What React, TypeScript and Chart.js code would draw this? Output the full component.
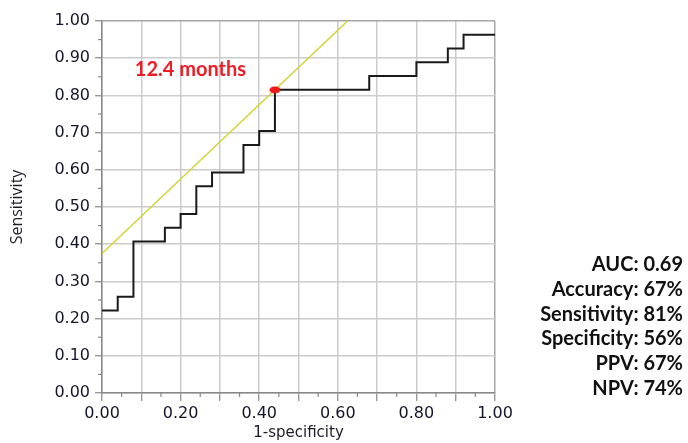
import React, { useEffect, useRef } from "react";
import { Chart, registerables } from "chart.js";

Chart.register(...registerables);

// ROC step curve (1-specificity, sensitivity)
const rocFpr = [0, 0.04, 0.08, 0.16, 0.2, 0.24, 0.28, 0.36, 0.4, 0.44, 0.68, 0.8, 0.88, 0.92, 1.0];
const rocTpr = [0.222, 0.259, 0.407, 0.444, 0.481, 0.556, 0.593, 0.667, 0.704, 0.815, 0.852, 0.889, 0.926, 0.963, 0.963];
// tangent (Youden) line endpoints
const tangentX = [0, 0.625];
const tangentY = [0.375, 1.0];
// optimal cut-off point
const cutoffX = [0.44];
const cutoffY = [0.815];
const cutoffLabel = "12.4 months";
const cutoffLabelPos = [0.225, 0.87];
const statLines = ["AUC: 0.69", "Accuracy: 67%", "Sensitivity: 81%", "Specificity: 56%", "PPV: 67%", "NPV: 74%"];
const xTitle = "1-specificity";
const yTitle = "Sensitivity";

const TICK_FONT = { family: "'DejaVu Sans', Verdana, sans-serif", size: 16 };
const X_TITLE_FONT = { family: "'DejaVu Sans', Verdana, sans-serif", size: 15 };
const Y_TITLE_FONT = { family: "'Open Sans', sans-serif", size: 16 };

function makeEllipse(): HTMLCanvasElement {
  const c = document.createElement("canvas");
  c.width = 12;
  c.height = 8;
  const g = c.getContext("2d")!;
  g.fillStyle = "#f01818";
  g.beginPath();
  g.ellipse(6, 4, 5.5, 3.5, 0, 0, Math.PI * 2);
  g.fill();
  return c;
}

const extrasPlugin = {
  id: "extras",
  afterDraw(chart: any) {
    const ctx = chart.ctx;
    const xs = chart.scales.x;
    const ys = chart.scales.y;
    ctx.save();
    ctx.strokeStyle = "#888888";
    ctx.lineWidth = 1.2;
    // minor ticks
    for (let k = 0; k < 10; k++) {
      const v = 0.05 + k * 0.1;
      const px = xs.getPixelForValue(v);
      ctx.beginPath();
      ctx.moveTo(px, ys.bottom);
      ctx.lineTo(px, ys.bottom + 4);
      ctx.stroke();
      const py = ys.getPixelForValue(v);
      ctx.beginPath();
      ctx.moveTo(xs.left, py);
      ctx.lineTo(xs.left - 4, py);
      ctx.stroke();
    }
    // label
    ctx.fillStyle = "#ee1c25";
    ctx.font = "bold 20px Lato, 'Open Sans', sans-serif";
    ctx.textAlign = "center";
    ctx.textBaseline = "middle";
    ctx.fillText(cutoffLabel, xs.getPixelForValue(cutoffLabelPos[0]), ys.getPixelForValue(cutoffLabelPos[1]));
    ctx.restore();
  },
};

export default function App() {
  const ref = useRef<HTMLCanvasElement>(null);
  useEffect(() => {
    const gridColor = (c: any) => (c.tick && Math.abs(c.tick.value - 1) < 1e-6 ? "#a6a6a6" : "#cccccc");
    const chart = new Chart(ref.current!, {
      type: "line",
      data: {
        datasets: [
          {
            label: "tangent",
            data: tangentX.map((x, i) => ({ x, y: tangentY[i] })),
            borderColor: "#d4d43e",
            borderWidth: 1.6,
            pointRadius: 0,
            order: 2,
          },
          {
            label: "ROC",
            data: rocFpr.map((x, i) => ({ x, y: rocTpr[i] })),
            borderColor: "#1a1a1a",
            borderWidth: 2,
            stepped: "before",
            pointRadius: 0,
            order: 1,
          },
          {
            label: "cutoff",
            data: cutoffX.map((x, i) => ({ x, y: cutoffY[i] })),
            showLine: false,
            pointStyle: makeEllipse() as any,
            pointRadius: 5,
            order: 0,
          },
        ],
      },
      options: {
        animation: false,
        responsive: false,
        maintainAspectRatio: false,
        layout: { padding: { left: 0, top: 21, right: 193, bottom: 0 } },
        plugins: { legend: { display: false }, tooltip: { enabled: false } },
        scales: {
          x: {
            type: "linear",
            min: 0,
            max: 1,
            ticks: {
              stepSize: 0.1,
              color: "#15152a",
              font: TICK_FONT,
              padding: 3,
              maxRotation: 0,
              autoSkip: false,
              callback: (v: any, i: number) => (i % 2 === 0 ? Number(v).toFixed(2) : ""),
            },
            grid: { color: gridColor, lineWidth: 1.5, tickLength: 8, tickColor: "#888888", tickWidth: 1.2 },
            border: { color: "#888888", width: 1.5 },
            title: { display: true, text: xTitle, color: "#1c1c2a", font: X_TITLE_FONT, padding: { top: 0, bottom: 1 } },
            afterFit: (s: any) => {
              s.height = 50;
            },
          },
          y: {
            type: "linear",
            min: 0,
            max: 1,
            ticks: {
              stepSize: 0.1,
              color: "#15152a",
              font: TICK_FONT,
              padding: 5,
              autoSkip: false,
              callback: (v: any) => Number(v).toFixed(2),
            },
            grid: { color: gridColor, lineWidth: 1.5, tickLength: 7, tickColor: "#888888", tickWidth: 1.2 },
            border: { color: "#888888", width: 1.5 },
            title: { display: true, text: yTitle, color: "#1c1c2a", font: Y_TITLE_FONT, padding: { top: 8, bottom: 0 } },
            afterFit: (s: any) => {
              s.width = 102;
            },
          },
        },
      },
      plugins: [extrasPlugin],
    });
    return () => chart.destroy();
  }, []);

  return (
    <div style={{ position: "fixed", left: 0, top: 0, width: 688, height: 443, background: "#fff" }}>
      <canvas ref={ref} width={688} height={443} style={{ position: "absolute", left: 0, top: 0 }} />
      {statLines.map((t, i) => (
        <div
          key={t}
          style={{
            position: "absolute",
            right: 5,
            top: 263 + i * 24.8 - 12,
            height: 24,
            lineHeight: "24px",
            font: "bold 20px Lato, 'Open Sans', sans-serif",
            color: "#111",
            whiteSpace: "nowrap",
            textAlign: "right",
          }}
        >
          {t}
        </div>
      ))}
    </div>
  );
}
